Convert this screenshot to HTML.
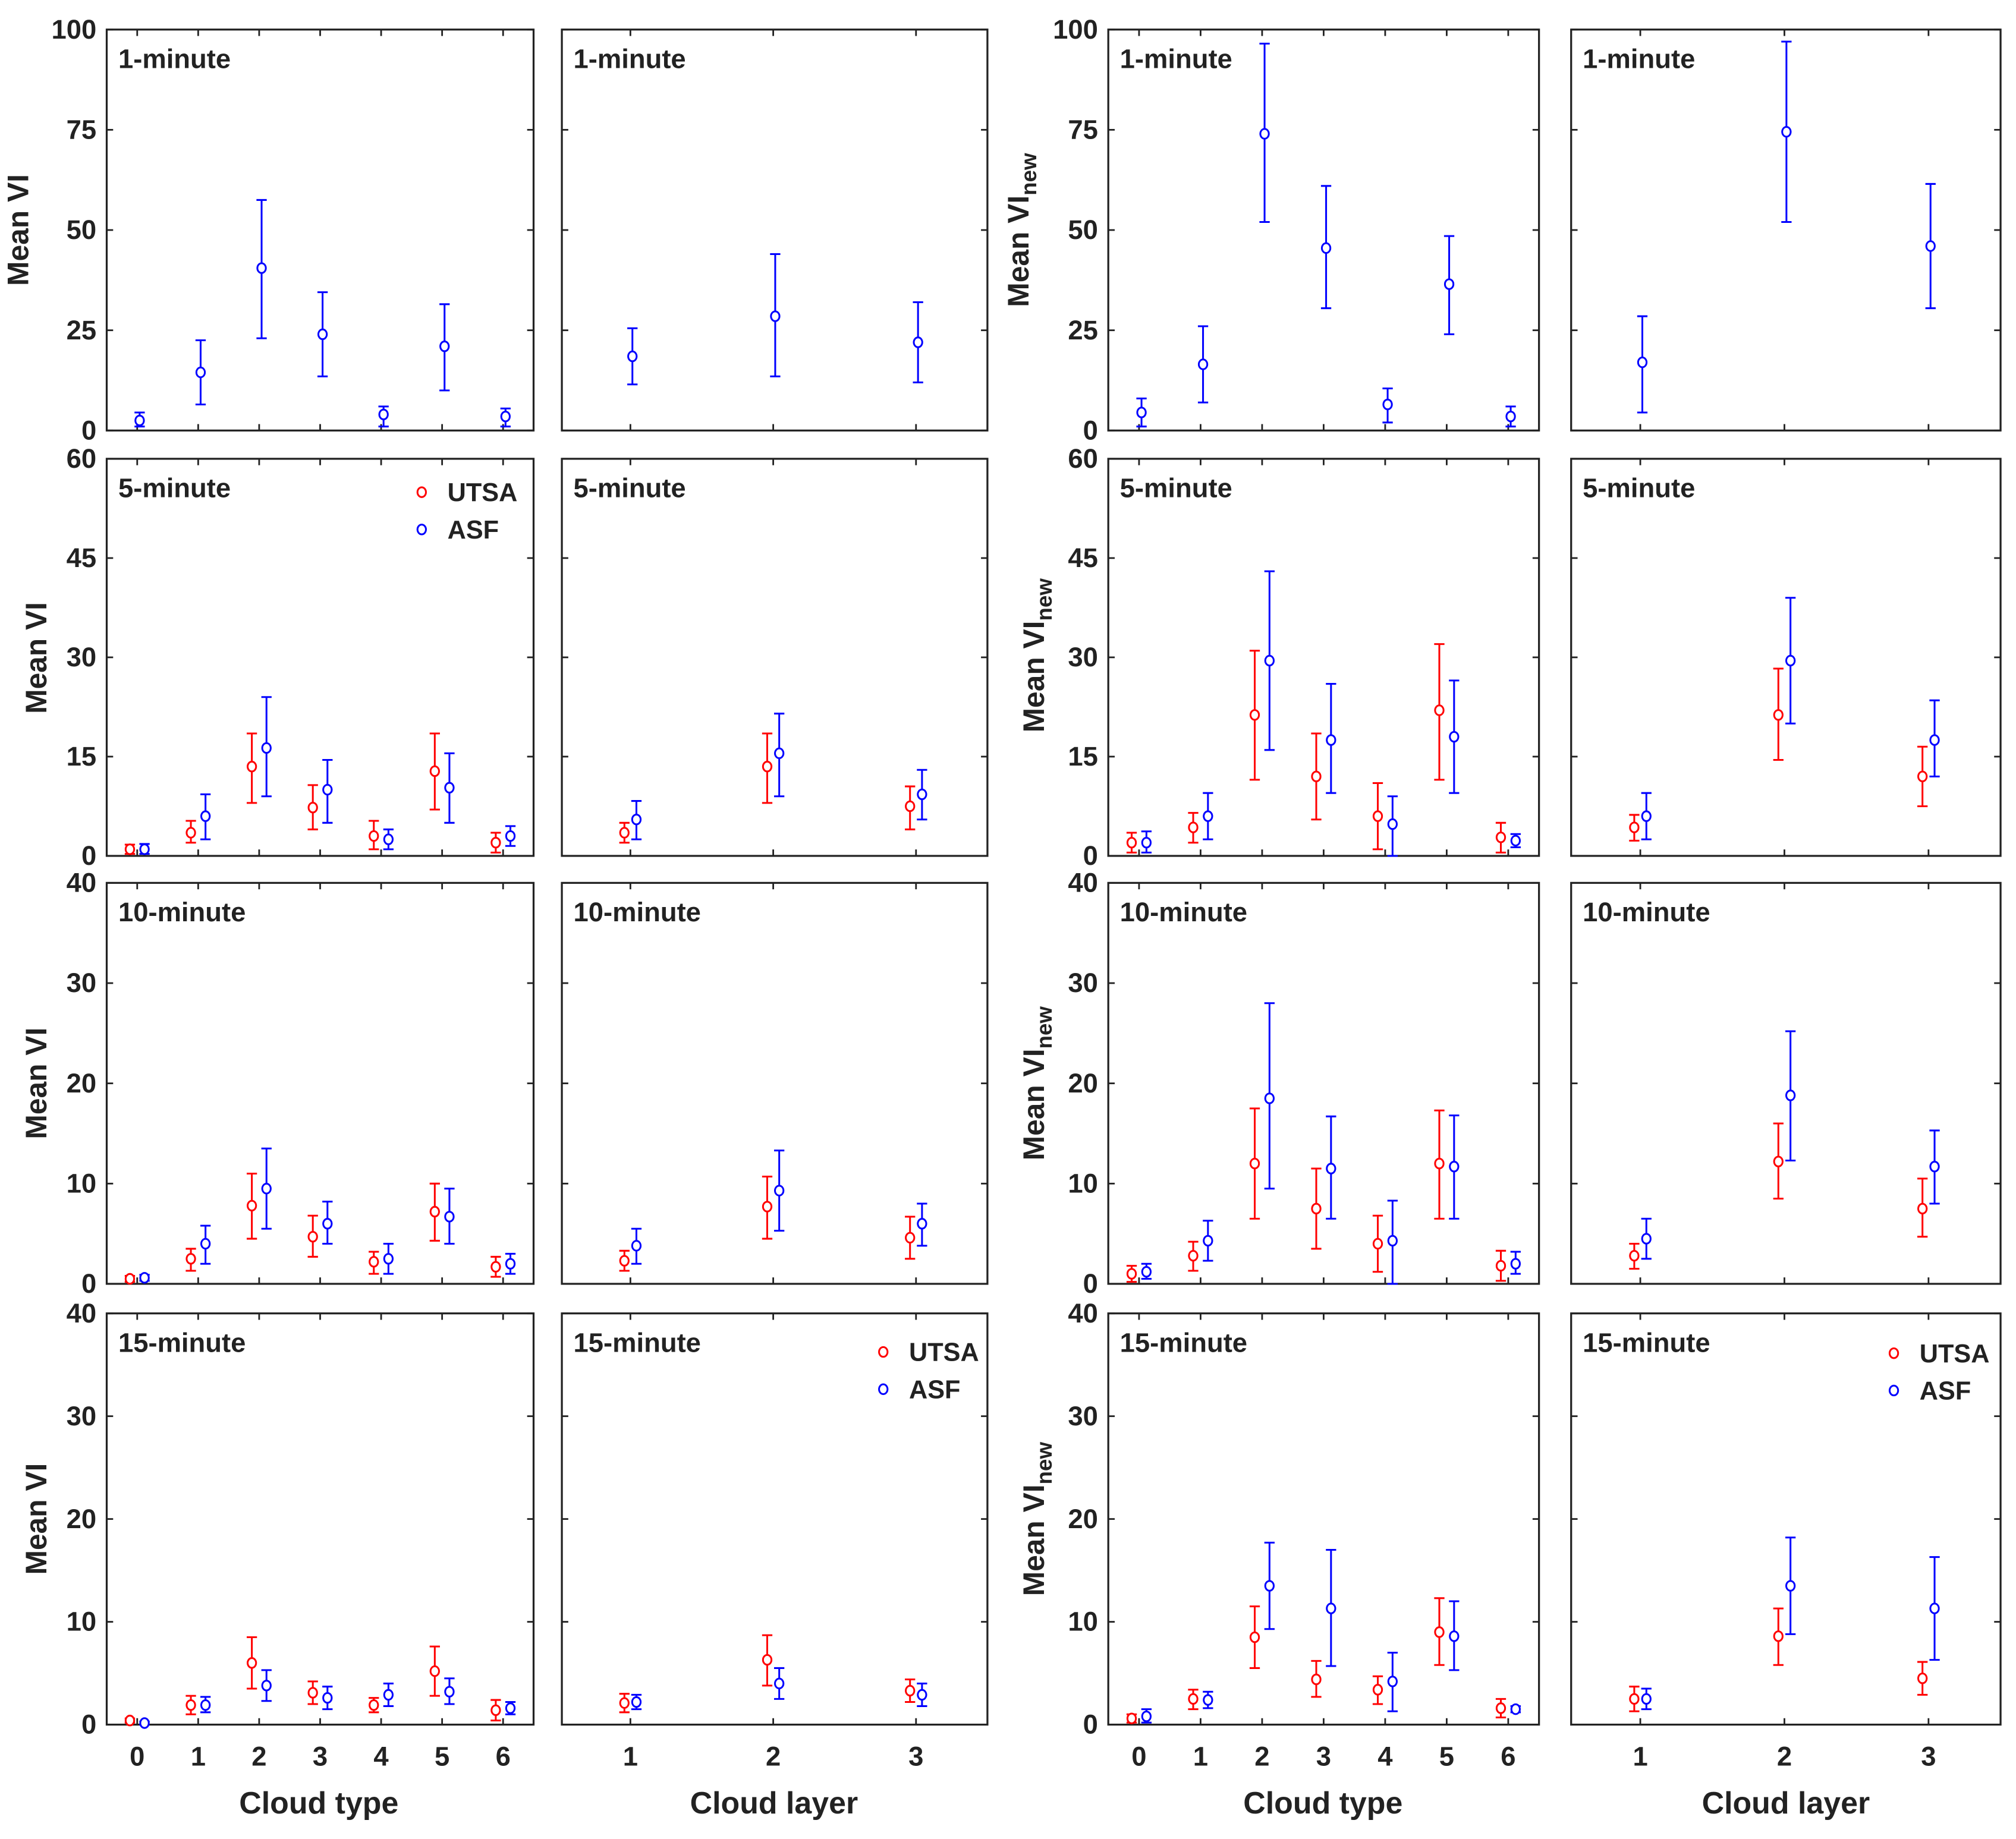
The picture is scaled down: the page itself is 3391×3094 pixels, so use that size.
<!DOCTYPE html>
<html><head><meta charset="utf-8"><style>
html,body{margin:0;padding:0;background:#fff}
svg{display:block}
text{font-family:"Liberation Sans",sans-serif;font-weight:bold;fill:#222}
</style></head><body>
<svg id="chart" width="3391" height="3094" viewBox="0 0 1568 1431" preserveAspectRatio="none" xmlns="http://www.w3.org/2000/svg"></svg>
<script>
// ---- data: [mean, low, high] ----
const row_labels = ["1-minute","5-minute","10-minute","15-minute"];
const y_max = [100,60,40,40];
const y_ticks_r1 = [0,25,50,75,100];
const y_ticks_r2 = [0,15,30,45,60];
const y_ticks_r34 = [0,10,20,30,40];
const type_cats = [0,1,2,3,4,5,6];
const layer_cats = [1,2,3];

const vi1_type_asf = [[2.5,1,4.5],[14.5,6.5,22.5],[40.5,23,57.5],[24,13.5,34.5],[4,1,6],[21,10,31.5],[3.5,1,5.5]];
const vi1_layer_asf = [[18.5,11.5,25.5],[28.5,13.5,44],[22,12,32]];
const vin1_type_asf = [[4.5,1,8],[16.5,7,26],[74,52,96.5],[45.5,30.5,61],[6.5,2,10.5],[36.5,24,48.5],[3.5,1,6]];
const vin1_layer_asf = [[17,4.5,28.5],[74.5,52,97],[46,30.5,61.5]];

const vi5_type_utsa = [[1,0.3,1.7],[3.5,2,5.3],[13.5,8,18.5],[7.3,4,10.7],[3,1,5.3],[12.8,7,18.5],[2,0.5,3.5]];
const vi5_type_asf = [[1,0.3,1.8],[6,2.5,9.3],[16.3,9,24],[10,5,14.5],[2.5,1,4],[10.3,5,15.5],[3,1.5,4.5]];
const vi5_layer_utsa = [[3.5,2,5],[13.5,8,18.5],[7.5,4,10.5]];
const vi5_layer_asf = [[5.5,2.5,8.3],[15.5,9,21.5],[9.3,5.5,13]];
const vin5_type_utsa = [[2,0.5,3.5],[4.3,2,6.5],[21.3,11.5,31],[12,5.5,18.5],[6,1,11],[22,11.5,32],[2.8,0.5,5]];
const vin5_type_asf = [[2,0.5,3.7],[6,2.5,9.5],[29.5,16,43],[17.5,9.5,26],[4.8,0,9],[18,9.5,26.5],[2.3,1.3,3.3]];
const vin5_layer_utsa = [[4.3,2.3,6.2],[21.3,14.5,28.3],[12,7.5,16.5]];
const vin5_layer_asf = [[6,2.5,9.5],[29.5,20,39],[17.5,12,23.5]];

const vi10_type_utsa = [[0.5,0.2,0.8],[2.5,1.3,3.5],[7.8,4.5,11],[4.7,2.7,6.8],[2.2,1,3.2],[7.2,4.3,10],[1.7,0.7,2.7]];
const vi10_type_asf = [[0.6,0.3,0.9],[4,2,5.8],[9.5,5.5,13.5],[6,4,8.2],[2.5,1,4],[6.7,4,9.5],[2,1,3]];
const vi10_layer_utsa = [[2.3,1.3,3.3],[7.7,4.5,10.7],[4.6,2.5,6.7]];
const vi10_layer_asf = [[3.8,2,5.5],[9.3,5.3,13.3],[6,3.8,8]];
const vin10_type_utsa = [[1,0.2,1.8],[2.8,1.3,4.2],[12,6.5,17.5],[7.5,3.5,11.5],[4,1.2,6.8],[12,6.5,17.3],[1.8,0.3,3.3]];
const vin10_type_asf = [[1.2,0.5,2],[4.3,2.3,6.3],[18.5,9.5,28],[11.5,6.5,16.7],[4.3,0,8.3],[11.7,6.5,16.8],[2,1,3.2]];
const vin10_layer_utsa = [[2.8,1.5,4],[12.2,8.5,16],[7.5,4.7,10.5]];
const vin10_layer_asf = [[4.5,2.5,6.5],[18.8,12.3,25.2],[11.7,8,15.3]];

const vi15_type_utsa = [[0.4,0.2,0.6],[1.9,1,2.8],[6,3.5,8.5],[3.1,2,4.2],[1.9,1.2,2.6],[5.2,2.8,7.6],[1.4,0.4,2.4]];
const vi15_type_asf = [[0.15,0,0.3],[1.9,1.2,2.7],[3.8,2.3,5.3],[2.6,1.5,3.7],[2.9,1.8,4],[3.2,2,4.5],[1.6,1,2.2]];
const vi15_layer_utsa = [[2.1,1.2,3],[6.3,3.8,8.7],[3.3,2.2,4.4]];
const vi15_layer_asf = [[2.2,1.5,2.9],[4,2.5,5.5],[2.9,1.8,4]];
const vin15_type_utsa = [[0.6,0.2,1],[2.5,1.5,3.4],[8.5,5.5,11.5],[4.4,2.7,6.2],[3.4,2,4.7],[9,5.8,12.3],[1.6,0.7,2.5]];
const vin15_type_asf = [[0.8,0.2,1.5],[2.4,1.6,3.2],[13.5,9.3,17.7],[11.3,5.7,17],[4.2,1.3,7],[8.6,5.3,12],[1.5,1.2,1.8]];
const vin15_layer_utsa = [[2.5,1.3,3.7],[8.6,5.8,11.3],[4.5,2.9,6.1]];
const vin15_layer_asf = [[2.5,1.5,3.5],[13.5,8.8,18.2],[11.3,6.3,16.3]];

// ---- layout ----
const colX = [[83,415],[437,768],[862,1197],[1222,1556]];
const rowY = [[23,335],[357,666],[687,999],[1022,1342]];
const NS = "http://www.w3.org/2000/svg";
const svg = document.getElementById("chart");
function mk(tag, attrs, parent){
  const e = document.createElementNS(NS, tag);
  for (const k in attrs) e.setAttribute(k, attrs[k]);
  (parent||svg).appendChild(e);
  return e;
}
const yTicksByRow = [y_ticks_r1, y_ticks_r2, y_ticks_r34, y_ticks_r34];
const panels = [
  [vi1_type_asf,null],[vi1_layer_asf,null],[vin1_type_asf,null],[vin1_layer_asf,null],
  [vi5_type_asf,vi5_type_utsa],[vi5_layer_asf,vi5_layer_utsa],[vin5_type_asf,vin5_type_utsa],[vin5_layer_asf,vin5_layer_utsa],
  [vi10_type_asf,vi10_type_utsa],[vi10_layer_asf,vi10_layer_utsa],[vin10_type_asf,vin10_type_utsa],[vin10_layer_asf,vin10_layer_utsa],
  [vi15_type_asf,vi15_type_utsa],[vi15_layer_asf,vi15_layer_utsa],[vin15_type_asf,vin15_type_utsa],[vin15_layer_asf,vin15_layer_utsa]
];
for (let r=0;r<4;r++){
  for (let c=0;c<4;c++){
    const [x0,x1] = colX[c], [y0,y1] = rowY[r];
    const isType = (c%2===0);
    const cats = isType ? type_cats : layer_cats;
    const dmin = isType ? -0.5 : 0.52, dmax = isType ? 6.5 : 3.5;
    const xs = v => x0 + (v-dmin)/(dmax-dmin)*(x1-x0);
    const ys = v => y1 - v/y_max[r]*(y1-y0);
    const g = mk("g",{});
    
    
    const frame = mk("rect",{x:x0,y:y0,width:x1-x0,height:y1-y0,fill:"none",stroke:"#222","stroke-width":1.5},g);
    
    
    yTicksByRow[r].forEach(t=>{
      const yy = ys(t);
      mk("line",{x1:x0,x2:x0+5,y1:yy,y2:yy,stroke:"#222","stroke-width":1.3},g);
      mk("line",{x1:x1,x2:x1-5,y1:yy,y2:yy,stroke:"#222","stroke-width":1.3},g);
      if (c%2===0){
        const tl = mk("text",{x:x0-8,y:yy+7,"text-anchor":"end","font-size":21},g);
        tl.textContent = t;
        
        
      }
    });
    cats.forEach(cv=>{
      const xx = xs(cv);
      mk("line",{x1:xx,x2:xx,y1:y1,y2:y1-5,stroke:"#222","stroke-width":1.3},g);
      mk("line",{x1:xx,x2:xx,y1:y0,y2:y0+5,stroke:"#222","stroke-width":1.3},g);
      if (r===3){
        const tl = mk("text",{x:xx,y:y1+32,"text-anchor":"middle","font-size":21},g);
        tl.textContent = cv;
        
        
      }
    });
    const ti = mk("text",{x:x0+9,y:y0+30,"font-size":21},g);
    ti.textContent = row_labels[r];
    
    
    const [asf, utsa] = panels[r*4+c];
    const series = [];
    if (utsa) series.push([utsa,"#f00",-0.12,"utsa"]);
    series.push([asf,"#00f", utsa?0.12:0.04,"asf"]);
    series.forEach(([data,col,off,nm])=>{
      data.forEach((d,i)=>{
        const xx = xs(cats[i]+off*(isType?1:0.35));
        const eb = mk("g",{},g);
        
        
        mk("line",{x1:xx,x2:xx,y1:ys(d[1]),y2:ys(d[2]),stroke:col,"stroke-width":1.4},eb);
        mk("line",{x1:xx-4,x2:xx+4,y1:ys(d[1]),y2:ys(d[1]),stroke:col,"stroke-width":1.4},eb);
        mk("line",{x1:xx-4,x2:xx+4,y1:ys(d[2]),y2:ys(d[2]),stroke:col,"stroke-width":1.4},eb);
        mk("ellipse",{cx:xx,cy:ys(d[0]),rx:3.3,ry:3.8,fill:"#fff",stroke:col,"stroke-width":1.4},eb);
      });
    });
  }
}
[[22,179,"Mean VI",false],[36,512,"Mean VI",false],[36,843,"Mean VI",false],[36,1182,"Mean VI",false],
 [800,179,"Mean VI",true],[812,510,"Mean VI",true],[812,843,"Mean VI",true],[812,1182,"Mean VI",true]].forEach(([x,y,s,sub])=>{
  const t = mk("text",{x:x,y:y,"text-anchor":"middle","font-size":23,transform:"rotate(-90 "+x+" "+y+")"});
  t.textContent = s;
  if (sub){ const ts = mk("tspan",{"font-size":17,dy:6},t); ts.textContent="new"; }
  
  
});
[[248,"Cloud type"],[602,"Cloud layer"],[1029,"Cloud type"],[1389,"Cloud layer"]].forEach(([x,s])=>{
  const t = mk("text",{x:x,y:1411,"text-anchor":"middle","font-size":24});
  t.textContent = s;
  
  
});
[[328,383],[687,1052],[1473,1053]].forEach(([x,y])=>{
  const lg = mk("g",{});
  
  
  [["UTSA","#f00",0],["ASF","#00f",29]].forEach(([s,col,dy])=>{
    mk("ellipse",{cx:x,cy:y+dy,rx:3.3,ry:3.8,fill:"#fff",stroke:col,"stroke-width":1.4},lg);
    const t = mk("text",{x:x+20,y:y+dy+7,"font-size":20},lg);
    t.textContent = s;
    
    
  });
});
</script>
</body></html>
